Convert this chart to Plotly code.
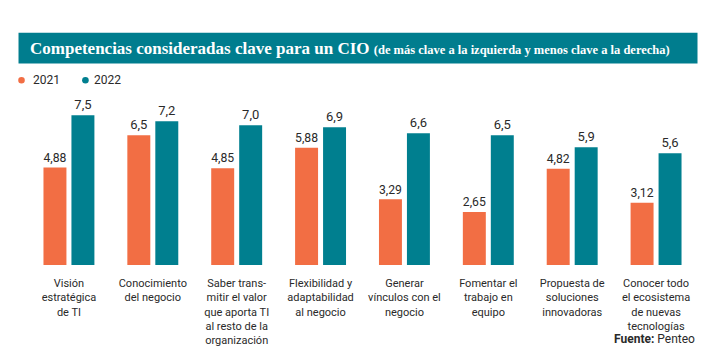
import plotly.graph_objects as go

categories = [
    "Visión<br>estratégica<br>de TI",
    "Conocimiento<br>del negocio",
    "Saber trans-<br>mitir el valor<br>que aporta TI<br>al resto de la<br>organización",
    "Flexibilidad y<br>adaptabilidad<br>al negocio",
    "Generar<br>vínculos con el<br>negocio",
    "Fomentar el<br>trabajo en<br>equipo",
    "Propuesta de<br>soluciones<br>innovadoras",
    "Conocer todo<br>el ecosistema<br>de nuevas<br>tecnologías",
]
values_2021 = [4.88, 6.5, 4.85, 5.88, 3.29, 2.65, 4.82, 3.12]
values_2022 = [7.5, 7.2, 7.0, 6.9, 6.6, 6.5, 5.9, 5.6]
labels_2021 = ["4,88", "6,5", "4,85", "5,88", "3,29", "2,65", "4,82", "3,12"]
labels_2022 = ["7,5", "7,2", "7,0", "6,9", "6,6", "6,5", "5,9", "5,6"]
series_names = ["2021", "2022"]

ORANGE = "#F26E44"
TEAL = "#007F8F"
TXT = "#2a2a2a"

# page has an 8px body margin; lay out in page coordinates and subtract it
OFF = 8
PAGE_W, PAGE_H = 714, 359
W, H = PAGE_W - OFF, PAGE_H - OFF
PLOT_L, PLOT_R, PLOT_T, PLOT_B = 26.5, 698.5, 100, 267  # page coords
ML = PLOT_L - OFF
MR = W - (PLOT_R - OFF)
MT = PLOT_T - OFF
MB = H - (PLOT_B - OFF)
PW = PLOT_R - PLOT_L
PH = PLOT_B - PLOT_T


def px(x):
    return (x - PLOT_L) / PW


def py(y):
    return (PLOT_B - y) / PH


fig = go.Figure()
xs = list(range(len(categories)))
fig.add_trace(go.Bar(x=xs, y=values_2021, name=series_names[0], marker_color=ORANGE,
                     text=labels_2021, textposition="outside", cliponaxis=False))
fig.add_trace(go.Bar(x=xs, y=values_2022, name=series_names[1], marker_color=TEAL,
                     text=labels_2022, textposition="outside", cliponaxis=False))
fig.update_traces(textfont=dict(family="Roboto", size=13, color=TXT),
                  marker_line_width=0, showlegend=False)

fig.update_layout(
    width=W, height=H, autosize=False,
    margin=dict(l=ML, r=MR, t=MT, b=MB, pad=0),
    paper_bgcolor="white", plot_bgcolor="white",
    barmode="group", bargap=0.333, bargroupgap=0.179,
    showlegend=False,
    xaxis=dict(tickmode="array", tickvals=xs, ticktext=categories,
               range=[-0.5, len(categories) - 0.5], showgrid=False, zeroline=False,
               showline=False, ticks="", ticklabelstandoff=10,
               tickfont=dict(family="Roboto", size=11, color=TXT)),
    yaxis=dict(range=[0, PH / 20.2], visible=False, showgrid=False, zeroline=False),
)

shapes = [
    dict(type="rect", xref="paper", yref="paper", x0=px(18), x1=px(698), y0=py(63), y1=py(32),
         fillcolor="#007D8E", line_width=0, layer="below"),
    dict(type="circle", xref="paper", yref="paper", x0=px(17.7), x1=px(24.3), y0=py(83.3), y1=py(76.7),
         fillcolor=ORANGE, line_width=0),
    dict(type="circle", xref="paper", yref="paper", x0=px(81.7), x1=px(88.3), y0=py(83.3), y1=py(76.7),
         fillcolor=TEAL, line_width=0),
]
fig.update_layout(shapes=shapes)

annotations = [
    dict(xref="paper", yref="paper", x=px(28), y=py(48), xanchor="left", yanchor="middle",
         showarrow=False,
         text="<b>Competencias consideradas clave para un CIO</b> "
              "<span style='font-size:12.5px'><b>(de más clave a la izquierda y menos clave a la derecha)</b></span>",
         font=dict(family="Liberation Serif", size=17, color="white")),
    dict(xref="paper", yref="paper", x=px(31), y=py(80), xanchor="left", yanchor="middle",
         showarrow=False, text=series_names[0],
         font=dict(family="Roboto", size=12, color=TXT)),
    dict(xref="paper", yref="paper", x=px(92), y=py(80), xanchor="left", yanchor="middle",
         showarrow=False, text=series_names[1],
         font=dict(family="Roboto", size=12, color=TXT)),
    dict(xref="paper", yref="paper", x=px(697), y=py(342), xanchor="right", yanchor="middle",
         showarrow=False, text="<b>Fuente:</b> Penteo",
         font=dict(family="Roboto", size=12, color=TXT)),
]
fig.update_layout(annotations=annotations)

fig.write_html("out.html")
